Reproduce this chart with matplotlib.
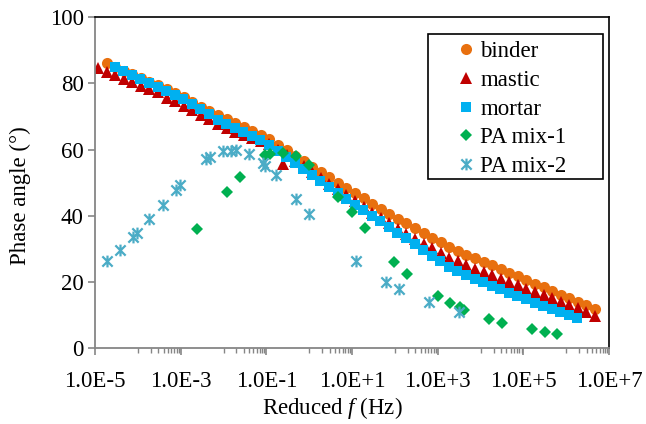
import numpy as np
import matplotlib
matplotlib.use("Agg")
import matplotlib.pyplot as plt
from matplotlib.path import Path
from matplotlib.patches import Rectangle
from matplotlib.ticker import FixedLocator, NullFormatter

# Phase angle master curves (log10 of reduced frequency, degrees)
binder_logf = [-4.73, -4.53, -4.33, -4.13, -3.93, -3.73, -3.53, -3.33, -3.13, -2.93,
               -2.73, -2.53, -2.33, -2.13, -1.93, -1.73, -1.53, -1.33, -1.13, -0.93,
               -0.73, -0.53, -0.33, -0.13, 0.07, 0.27, 0.47, 0.67, 0.87, 1.07,
               1.27, 1.47, 1.67, 1.87, 2.07, 2.27, 2.47, 2.67, 2.87, 3.07,
               3.27, 3.47, 3.67, 3.87, 4.07, 4.27, 4.47, 4.67, 4.87, 5.07,
               5.27, 5.47, 5.67, 5.87, 6.07, 6.27, 6.47, 6.67]
binder_phase = [86.2, 85.1, 83.9, 82.8, 81.6, 80.5, 79.4, 78.2, 77.1, 75.8,
                74.4, 73.0, 71.7, 70.3, 69.1, 67.9, 66.7, 65.5, 64.3, 63.1,
                61.4, 59.7, 58.1, 56.5, 54.8, 53.2, 51.6, 50.0, 48.4, 46.8,
                45.2, 43.6, 42.1, 40.5, 38.9, 37.6, 36.2, 34.7, 33.3, 31.9,
                30.5, 29.3, 28.2, 27.1, 26.0, 24.9, 23.8, 22.7, 21.6, 20.5,
                19.4, 18.3, 17.2, 16.1, 15.0, 13.9, 12.8, 11.7]

mastic_logf = [-4.93, -4.73, -4.53, -4.33, -4.13, -3.93, -3.73, -3.53, -3.33, -3.13,
               -2.93, -2.73, -2.53, -2.33, -2.13, -1.93, -1.73, -1.53, -1.33, -1.13,
               -0.93, -0.73, -0.61, -0.53, -0.33, -0.13, 0.07, 0.27, 0.47, 0.67,
               0.87, 1.07, 1.27, 1.47, 1.67, 1.87, 2.07, 2.27, 2.47, 2.67,
               2.87, 3.07, 3.27, 3.47, 3.67, 3.87, 4.07, 4.27, 4.47, 4.67,
               4.87, 5.07, 5.27, 5.47, 5.67, 5.87, 6.07, 6.27, 6.47, 6.67]
mastic_phase = [84.6, 83.5, 82.5, 81.4, 80.4, 79.3, 78.3, 77.3, 75.7, 74.6,
                73.3, 71.9, 70.5, 69.2, 67.8, 66.6, 65.4, 64.3, 63.4, 62.5,
                61.6, 59.9, 55.5, 58.2, 56.6, 54.9, 53.1, 51.4, 49.7, 48.0,
                46.2, 44.4, 42.6, 40.9, 39.3, 37.6, 35.9, 34.5, 33.0, 31.5,
                30.1, 28.7, 27.3, 26.1, 25.0, 23.9, 22.9, 21.9, 20.9, 19.9,
                18.9, 17.9, 16.9, 15.9, 14.9, 13.9, 12.9, 11.9, 10.8, 9.7]

mortar_logf = [-4.54, -4.34, -4.14, -3.94, -3.74, -3.54, -3.34, -3.14, -2.94, -2.74,
               -2.54, -2.34, -2.14, -1.94, -1.74, -1.54, -1.34, -1.14, -0.94, -0.74,
               -0.54, -0.34, -0.14, 0.06, 0.26, 0.46, 0.66, 0.86, 1.06, 1.26,
               1.46, 1.66, 1.86, 2.06, 2.26, 2.46, 2.66, 2.86, 3.06, 3.26,
               3.46, 3.66, 3.86, 4.06, 4.26, 4.46, 4.66, 4.86, 5.06, 5.26,
               5.46, 5.66, 5.86, 6.06, 6.26]
mortar_phase = [85.0, 83.8, 82.6, 81.4, 80.2, 79.0, 77.8, 76.6, 75.3, 73.8,
                72.2, 70.6, 69.0, 67.7, 66.5, 65.3, 64.2, 62.8, 61.5, 59.6,
                57.8, 56.0, 54.2, 52.3, 50.5, 48.7, 46.9, 45.1, 43.3, 41.6,
                39.9, 38.3, 36.6, 34.8, 33.1, 31.3, 29.5, 27.8, 26.1, 24.5,
                23.2, 22.0, 20.9, 19.8, 18.7, 17.7, 16.6, 15.6, 14.6, 13.6,
                12.6, 11.6, 10.7, 9.8, 8.9]

pa1_logf = [-2.62, -1.91, -1.61, -1.04, -0.92, -0.61, -0.30, 0.00, 0.67, 0.99,
            1.30, 1.98, 2.29, 3.00, 3.28, 3.52, 3.61, 4.20, 4.49, 5.21,
            5.50, 5.79]
pa1_phase = [35.9, 47.2, 51.8, 58.3, 58.6, 58.9, 57.9, 55.4, 45.7, 41.0,
             36.1, 25.8, 22.3, 15.6, 13.5, 12.3, 11.3, 8.6, 7.4, 5.6,
             4.8, 4.1]

pa2_logf = [-4.72, -4.41, -4.12, -4.01, -3.73, -3.42, -3.12, -3.01, -2.42, -2.31,
            -2.01, -1.82, -1.72, -1.41, -1.08, -1.04, -0.77, -0.30, 0.00, 1.09,
            1.79, 2.10, 2.79, 3.50]
pa2_phase = [26.2, 29.6, 33.4, 34.6, 39.0, 43.3, 47.7, 49.4, 57.0, 57.8,
             59.6, 59.6, 60.0, 58.7, 55.9, 55.0, 52.2, 44.9, 40.5, 26.2,
             20.0, 17.7, 13.7, 10.9]

xtick_labels = ["1.0E-5", "1.0E-3", "1.0E-1", "1.0E+1", "1.0E+3", "1.0E+5", "1.0E+7"]

plt.rcParams["font.family"] = ["Liberation Serif", "DejaVu Serif"]
plt.rcParams["mathtext.fontset"] = "custom"
plt.rcParams["mathtext.rm"] = "Liberation Serif"
plt.rcParams["mathtext.it"] = "Liberation Serif:italic"

FS = 16.5
GREY = "#868686"

# asterisk marker: an x with a vertical bar through it
star = Path([(-1, -1), (1, 1), (-1, 1), (1, -1), (0, -1.15), (0, 1.15)],
            [Path.MOVETO, Path.LINETO, Path.MOVETO, Path.LINETO, Path.MOVETO, Path.LINETO])

fig = plt.figure(figsize=(6.46, 4.24), dpi=100)
ax = fig.add_axes([0.147, 0.180, 0.796, 0.779])

ax.plot(10 ** np.array(binder_logf), binder_phase, "o", color="#E8700F", ms=8.0,
        mew=0, label="binder")
ax.plot(10 ** np.array(mastic_logf), mastic_phase, "^", color="#C00000", ms=8.6,
        mew=0, label="mastic")
ax.plot(10 ** np.array(mortar_logf), mortar_phase, "s", color="#00B0F0", ms=7.0,
        mew=0, label="mortar")
ax.plot(10 ** np.array(pa1_logf), pa1_phase, "D", color="#00B050", ms=6.3,
        mew=0, label="PA mix-1")
ax.plot(10 ** np.array(pa2_logf), pa2_phase, ls="none", marker=star, color="#4BACC6",
        ms=8.5, mew=1.6, label="PA mix-2")

ax.set_xscale("log")
ax.set_xlim(1e-5, 1e7)
ax.set_ylim(0, 100)

major = [10.0 ** e for e in range(-5, 8, 2)]
minor = [k * 10.0 ** e for e in range(-4, 7, 2) for k in range(1, 10)]
ax.xaxis.set_major_locator(FixedLocator(major))
ax.xaxis.set_minor_locator(FixedLocator(minor))
ax.xaxis.set_minor_formatter(NullFormatter())
ax.set_xticks(major)
ax.set_xticklabels(xtick_labels)
ax.set_yticks(range(0, 101, 20))

ax.tick_params(axis="both", which="major", direction="out", color=GREY, width=1.2,
               length=5, labelsize=FS, labelcolor="black")
ax.tick_params(axis="x", which="major", pad=12)
ax.tick_params(axis="y", which="major", pad=3)
ax.tick_params(axis="x", which="minor", direction="out", color=GREY, width=1.0, length=3.5)

for side in ("left", "bottom"):
    ax.spines[side].set_color(GREY)
    ax.spines[side].set_linewidth(1.3)
for side in ("top", "right"):
    ax.spines[side].set_color("black")
    ax.spines[side].set_linewidth(1.2)

# legend entries without frame, boxed by a separate rectangle
leg = ax.legend(loc="upper left", bbox_to_anchor=(0.698, 0.945), borderaxespad=0,
                fontsize=FS, frameon=False, handlelength=0.6, handletextpad=0.3,
                labelspacing=0.33, borderpad=0.25, markerscale=1.0)
ax.add_patch(Rectangle((0.648, 0.511), 0.340, 0.438, transform=ax.transAxes,
                       fill=False, edgecolor="black", linewidth=1.2, zorder=5))

fig.text(0.514, 1 - 408 / 424, r"Reduced $\it{f}$ (Hz)", ha="center", va="center",
         fontsize=FS)
fig.text(20 / 646, 1 - 196 / 424, "Phase angle (°)", ha="center", va="center",
         rotation=90, fontsize=FS)

fig.savefig("out.png", dpi=100)
